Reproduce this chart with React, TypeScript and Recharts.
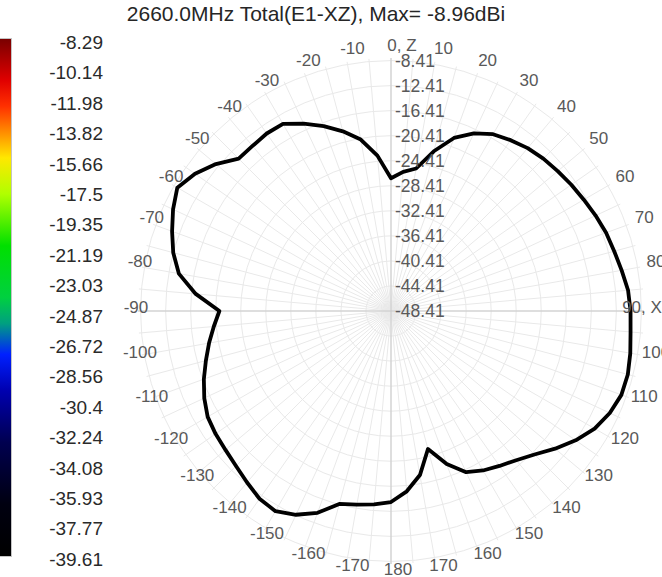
import React from 'react';
import { RadarChart, Radar, PolarGrid, PolarAngleAxis, PolarRadiusAxis } from 'recharts';

// pattern cut, angle measured clockwise from Z (top), 5 deg steps
const angles = [
  0, 5, 10, 15, 20, 25, 30, 35, 40, 45, 50, 55, 60, 65, 70, 75, 80, 85, 90,
  95, 100, 105, 110, 115, 120, 125, 130, 135, 140, 145, 150, 155, 160, 165, 170, 175, 180,
  -175, -170, -165, -160, -155, -150, -145, -140, -135, -130, -125, -120, -115, -110, -105, -100, -95,
  -90, -85, -80, -75, -70, -65, -60, -55, -50, -45, -40, -35, -30, -25, -20, -15, -10, -5,
];

const gains = [
  -27.2, -26.1, -25.3, -22.0, -19.0, -17.1, -15.8, -15.1, -14.45, -14.0, -13.65, -13.25, -12.85, -12.35, -11.85, -11.5, -11.0, -10.4, -10.15,
  -10.0, -9.6, -9.25, -9.25, -9.85, -10.85, -12.4, -14.2, -16.0, -17.3, -18.2, -19.0, -20.0, -22.4, -25.6, -21.8, -19.5, -17.9,
  -17.4, -17.0, -16.5, -14.1, -12.5, -11.5, -11.8, -12.65, -13.4, -13.9, -14.2, -14.6, -15.5, -16.6, -17.8, -18.9, -20.0,
  -21.0, -17.1, -14.0, -12.4, -11.2, -10.0, -9.0, -10.2, -11.9, -14.0, -14.0, -13.8, -13.9, -15.4, -17.0, -18.7, -20.6, -23.5,
];

const radiusTicks = [-48.41, -44.41, -40.41, -36.41, -32.41, -28.41, -24.41, -20.41, -16.41, -12.41, -8.41];

const scaleLabels = [
  '-8.29', '-10.14', '-11.98', '-13.82', '-15.66', '-17.5', '-19.35', '-21.19', '-23.03',
  '-24.87', '-26.72', '-28.56', '-30.4', '-32.24', '-34.08', '-35.93', '-37.77', '-39.61',
];

const title = '2660.0MHz Total(E1-XZ), Max= -8.96dBi';

const data = angles.map((deg, i) => ({ deg, gain: gains[i] }));

const CX = 391;
const CY = 311;
const OUTER = 253;

const angleLabel = (deg: number) => {
  if (deg === 0) return '0, Z';
  if (deg === 90) return '90, X';
  return String(deg);
};

const AngleTick = (props: any) => {
  const deg = Number(props.payload?.value);
  if (deg % 10 !== 0) return <g />;
  const cx = props.cx ?? CX;
  const cy = props.cy ?? CY;
  const t = (deg * Math.PI) / 180;
  let x = cx + 262 * Math.sin(t) + 7;
  const y = cy - 262 * Math.cos(t) - 4;
  // the long axis names sit a bit differently
  if (deg === 90) x -= 18;
  if (deg === 0) x += 4;
  return (
    <text x={x} y={y} textAnchor="middle" dominantBaseline="central" fontSize={17} fill="#595959">
      {angleLabel(deg)}
    </text>
  );
};

const RadiusTick = (props: any) => {
  const v = Number(props.payload?.value);
  return (
    <text x={props.x + 4} y={props.y} textAnchor="start" dominantBaseline="central" fontSize={17.5} fill="#595959">
      {v.toFixed(2)}
    </text>
  );
};

export default function App() {
  return (
    <div
      style={{
        position: 'absolute',
        left: 0,
        top: 0,
        width: 662,
        height: 577,
        background: '#fff',
        overflow: 'hidden',
        fontFamily: '"Liberation Sans", Arial, sans-serif',
      }}
    >
      <div style={{ position: 'absolute', left: 56, width: 520, top: 2, textAlign: 'center', fontSize: 21, color: '#262626', whiteSpace: 'nowrap' }}>
        {title}
      </div>

      {/* colour scale */}
      <div
        style={{
          position: 'absolute',
          left: 0,
          top: 38,
          width: 11,
          height: 517,
          border: '1px solid #c4c4c4',
          borderLeft: 'none',
          background:
            'linear-gradient(to bottom, #7a0000 0%, #e00000 8%, #ff3000 13%, #ff8c00 18%, #ffe800 23%, #b0ff00 30%, #00e000 40%, #00d040 50%, #00a080 55%, #0020ff 61%, #0000b0 68%, #000050 78%, #000010 90%, #000000 100%)',
        }}
      />
      {scaleLabels.map((s, i) => (
        <div
          key={s}
          style={{ position: 'absolute', right: 662 - 103, top: 43 + i * 30.4 - 11, lineHeight: '22px', fontSize: 19, color: '#2a2a2a', textAlign: 'right' }}
        >
          {s}
        </div>
      ))}

      <div style={{ position: 'absolute', left: 0, top: 0 }}>
        <RadarChart
          width={662}
          height={577}
          data={data}
          cx={CX}
          cy={CY}
          outerRadius={OUTER}
          startAngle={90}
          endAngle={-270}
          margin={{ top: 0, right: 0, bottom: 0, left: 0 }}
        >
          <PolarGrid gridType="circle" stroke="#e9e9e9" strokeWidth={1} />
          <PolarGrid gridType="circle" polarAngles={[90, 0, -90, 180]} polarRadius={[]} stroke="#c8c8c8" strokeWidth={1} />
          <PolarAngleAxis dataKey="deg" tick={<AngleTick />} tickLine={false} axisLine={false} />
          <PolarRadiusAxis
            type="number"
            domain={[-48.41, -8.41]}
            ticks={radiusTicks as any}
            tickCount={11}
            angle={90}
            axisLine={false}
            tickLine={false}
            tick={<RadiusTick />}
          />
          <Radar
            dataKey="gain"
            stroke="#000"
            strokeWidth={3.8}
            strokeLinejoin="round"
            fill="none"
            fillOpacity={0}
            dot={false}
            isAnimationActive={false}
          />
        </RadarChart>
      </div>
    </div>
  );
}
